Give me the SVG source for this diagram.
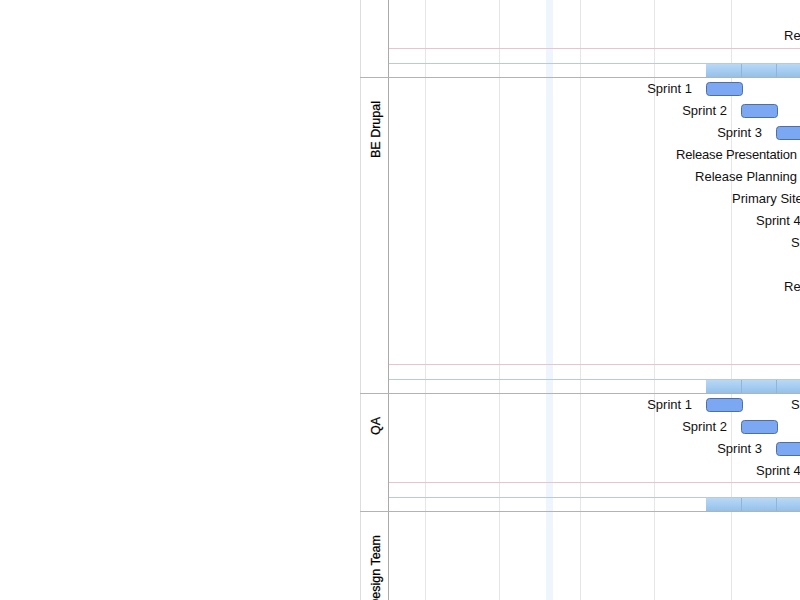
<svg xmlns="http://www.w3.org/2000/svg" width="800" height="600" viewBox="0 0 800 600">
  <defs>
    <linearGradient id="sumGrad" x1="0" y1="0" x2="0" y2="1">
      <stop offset="0" stop-color="#b9d8f6"/>
      <stop offset="1" stop-color="#94c1eb"/>
    </linearGradient>
    <style>
      .grid { stroke: #e6e6e6; stroke-width: 1; }
      .col { stroke: #aaaaaa; stroke-width: 1; }
      .outer { stroke: #dddddd; stroke-width: 1; }
      .lane { stroke: #b3b3b3; stroke-width: 1; }
      .pink { stroke: #e7c4d0; stroke-width: 1; }
      .blue { stroke: #b8cbd9; stroke-width: 1; }
      .sum { fill: url(#sumGrad); }
      .div { stroke: #8fb5da; stroke-width: 1; }
      .bar { fill: #7ba7f3; stroke: #4f6f9f; stroke-width: 1; }
      .lbl { font-family: "Liberation Sans", Arial, sans-serif; font-size: 13px; fill: #111111; }
      .end { text-anchor: end; }
      .lanelbl { font-family: "Liberation Sans", Arial, sans-serif; font-size: 12.5px; fill: #000000; text-anchor: end; stroke: #000000; stroke-width: 0.25; }
    </style>
  </defs>
  <rect x="0" y="0" width="800" height="600" fill="#ffffff"/>

  <g id="grid">
    <rect x="546" y="0" width="7" height="600" fill="#eef5fd"/>
    <line class="grid" x1="425.5" y1="0" x2="425.5" y2="600"/>
    <line class="grid" x1="499.5" y1="0" x2="499.5" y2="600"/>
    <line class="grid" x1="580.5" y1="0" x2="580.5" y2="600"/>
    <line class="grid" x1="654.5" y1="0" x2="654.5" y2="600"/>
    <line class="grid" x1="731.5" y1="0" x2="731.5" y2="600"/>
    <line class="outer" x1="360.5" y1="0" x2="360.5" y2="600"/>
    <line class="col" x1="388.5" y1="0" x2="388.5" y2="600"/>
  </g>

  <g id="lane-top">
    <line class="pink" x1="389" y1="48.5" x2="800" y2="48.5"/>
    <line class="blue" x1="389" y1="63.5" x2="800" y2="63.5"/>
    <rect class="sum" x="706" y="64" width="94" height="13"/>
    <line class="div" x1="741.5" y1="64" x2="741.5" y2="77"/>
    <line class="div" x1="776.5" y1="64" x2="776.5" y2="77"/>
    <line class="lane" x1="360" y1="77.5" x2="800" y2="77.5"/>
    <g id="top-task-re"><text class="lbl" x="784" y="40">Re</text></g>
  </g>

  <g id="lane-be-drupal">
    <text class="lanelbl" transform="translate(380,101) rotate(-90)">BE Drupal</text>
    <g id="be-sprint1"><text class="lbl end" x="692" y="93">Sprint 1</text><rect class="bar" x="706.5" y="82.5" width="36" height="13" rx="3"/></g>
    <g id="be-sprint2"><text class="lbl end" x="727" y="115">Sprint 2</text><rect class="bar" x="741.5" y="104.5" width="36" height="13" rx="3"/></g>
    <g id="be-sprint3"><text class="lbl end" x="762" y="137">Sprint 3</text><rect class="bar" x="776.5" y="126.5" width="36" height="13" rx="3"/></g>
    <g id="be-release-presentation"><text class="lbl end" x="797" y="159" textLength="121">Release Presentation</text></g>
    <g id="be-release-planning"><text class="lbl end" x="797" y="181">Release Planning</text></g>
    <g id="be-primary-site"><text class="lbl" x="732" y="203">Primary Site</text></g>
    <g id="be-sprint4"><text class="lbl" x="756" y="225">Sprint 4</text></g>
    <g id="be-s"><text class="lbl" x="791" y="247">S</text></g>
    <g id="be-re"><text class="lbl" x="784" y="291">Re</text></g>
    <line class="pink" x1="389" y1="364.5" x2="800" y2="364.5"/>
    <line class="blue" x1="389" y1="379.5" x2="800" y2="379.5"/>
    <rect class="sum" x="706" y="380" width="94" height="13"/>
    <line class="div" x1="741.5" y1="380" x2="741.5" y2="393"/>
    <line class="div" x1="776.5" y1="380" x2="776.5" y2="393"/>
    <line class="lane" x1="360" y1="393.5" x2="800" y2="393.5"/>
  </g>

  <g id="lane-qa">
    <text class="lanelbl" transform="translate(380,417) rotate(-90)">QA</text>
    <g id="qa-sprint1"><text class="lbl end" x="692" y="409">Sprint 1</text><rect class="bar" x="706.5" y="398.5" width="36" height="13" rx="3"/></g>
    <g id="qa-s"><text class="lbl" x="791" y="409">S</text></g>
    <g id="qa-sprint2"><text class="lbl end" x="727" y="431">Sprint 2</text><rect class="bar" x="741.5" y="420.5" width="36" height="13" rx="3"/></g>
    <g id="qa-sprint3"><text class="lbl end" x="762" y="453">Sprint 3</text><rect class="bar" x="776.5" y="442.5" width="36" height="13" rx="3"/></g>
    <g id="qa-sprint4"><text class="lbl" x="756" y="475">Sprint 4</text></g>
    <line class="pink" x1="389" y1="482.5" x2="800" y2="482.5"/>
    <line class="blue" x1="389" y1="497.5" x2="800" y2="497.5"/>
    <rect class="sum" x="706" y="498" width="94" height="13"/>
    <line class="div" x1="741.5" y1="498" x2="741.5" y2="511"/>
    <line class="div" x1="776.5" y1="498" x2="776.5" y2="511"/>
    <line class="lane" x1="360" y1="511.5" x2="800" y2="511.5"/>
  </g>

  <g id="lane-design-team">
    <text class="lanelbl" transform="translate(380,535) rotate(-90)">Design Team</text>
  </g>

  <g id="connectors"></g>
</svg>
